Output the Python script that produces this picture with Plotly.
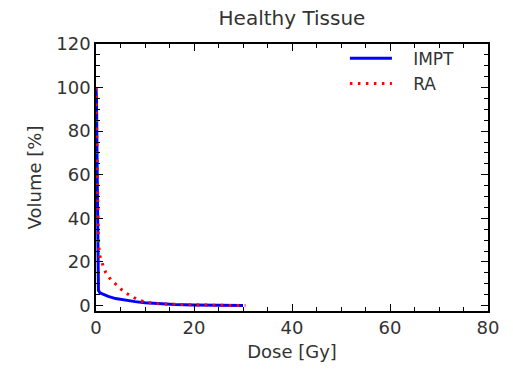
import plotly.graph_objects as go

# Dose-volume histogram for healthy tissue
impt_dose = [0, 0.1, 0.2, 0.3, 0.4, 0.5, 0.8, 1.5, 2.5, 4, 6, 8, 10, 13, 16, 20, 25, 30]
impt_vol = [100, 95, 70, 30, 10, 7, 5.8, 5.0, 4.2, 3.2, 2.4, 1.8, 1.3, 0.8, 0.5, 0.25, 0.1, 0]

ra_dose = [0, 0.1, 0.2, 0.35, 0.5, 0.65, 0.8, 1.4, 2, 3, 4.3, 5.6, 7.1, 8.6, 10.2, 12, 15, 20, 25, 30.5]
ra_vol = [100, 85, 60, 40, 30, 25, 22.7, 18.6, 15, 12, 9.3, 6.5, 4.4, 2.6, 1.5, 1.0, 0.6, 0.2, 0.1, 0]

x_ticks = [0, 20, 40, 60, 80]
y_ticks = [0, 20, 40, 60, 80, 100, 120]

font_family = "DejaVu Sans"
text_color = "#333333"
pad = "\u00a0\u00a0\u00a0"

fig = go.Figure()
fig.add_trace(go.Scatter(
    x=impt_dose, y=impt_vol, mode="lines", name=pad + "IMPT",
    line=dict(color="#0000ff", width=3),
))
fig.add_trace(go.Scatter(
    x=ra_dose, y=ra_vol, mode="lines", name=pad + "RA",
    line=dict(color="#ff0000", width=3, dash="2.5px,5.5px"),
))

axis_common = dict(
    showline=True, linecolor="black", linewidth=1.5, mirror="ticks",
    ticks="inside", ticklen=7, tickwidth=1, tickcolor="black",
    showgrid=False, zeroline=False,
    tickfont=dict(family=font_family, size=18, color=text_color),
    minor=dict(ticks="inside", ticklen=4, tickwidth=1, tickcolor="black", dtick=5),
)

fig.update_layout(
    width=513, height=370,
    margin=dict(l=96, r=25, t=44, b=59),
    paper_bgcolor="white", plot_bgcolor="white",
    title=dict(text="Healthy Tissue", x=0.5, xref="paper", y=1 - 18 / 370,
               yanchor="middle", xanchor="center",
               font=dict(family=font_family, size=20, color=text_color)),
    xaxis=dict(range=[0, 80], tickvals=x_ticks,
               title=dict(text="Dose [Gy]", standoff=8,
                          font=dict(family=font_family, size=18, color=text_color)),
               **axis_common),
    yaxis=dict(range=[-2.5, 120], tickvals=y_ticks,
               title=dict(text="Volume [%]", standoff=10,
                          font=dict(family=font_family, size=18, color=text_color)),
               **axis_common),
    legend=dict(x=0.635, y=1.012, xanchor="left", yanchor="top",
                bgcolor="rgba(0,0,0,0)", borderwidth=0, itemwidth=42,
                font=dict(family=font_family, size=17, color=text_color)),
)

fig.write_html("out.html")
